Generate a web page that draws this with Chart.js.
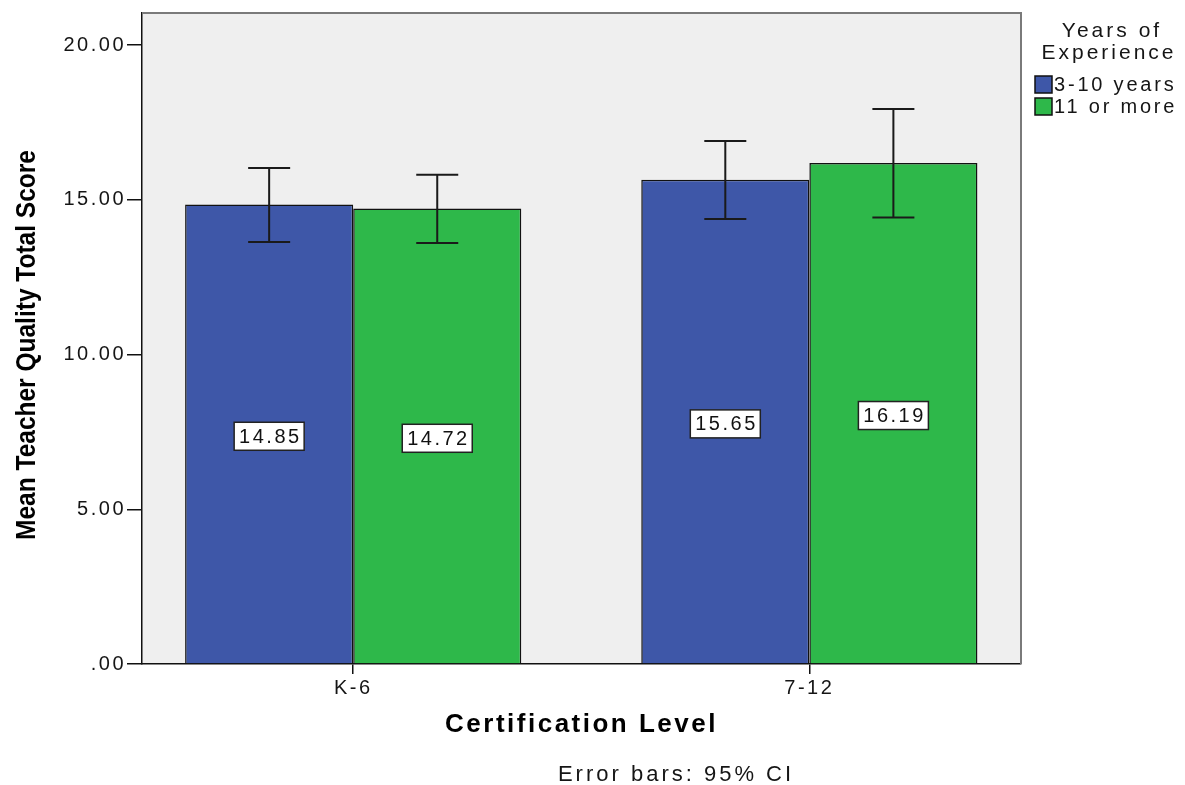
<!DOCTYPE html>
<html>
<head>
<meta charset="utf-8">
<script src="https://cdn.jsdelivr.net/npm/chart.js@4/dist/chart.umd.min.js"></script>
<style>
  html, body { margin: 0; padding: 0; background: #fff; }
  #wrap { width: 1185px; height: 785px; }
</style>
</head>
<body>
<div id="wrap"><canvas id="chart" width="1185" height="785"></canvas></div>
<script>
// Mean teacher quality score by certification level and years of experience
const categories = ['K-6', '7-12'];
const seriesLabels = ['3-10 years', '11 or more'];
const means3to10 = [14.85, 15.65];
const means11plus = [14.72, 16.19];
const ciLow3to10 = [13.64, 14.38];
const ciHigh3to10 = [16.03, 16.90];
const ciLow11plus = [13.61, 14.43];
const ciHigh11plus = [15.81, 17.94];
const yTicks = [0, 5, 10, 15, 20];

const COLORS = {
  blue: '#3e57a8',
  green: '#2eb84a',
  plotBg: '#efefef',
  frame: '#7a7a7a',
  text: '#151515'
};
const FONT = "'Liberation Sans', Arial, sans-serif";

function makeDataset(label, means, lo, hi, color) {
  return {
    label: label,
    data: means.map((v, i) => ({ x: i, y: v })),
    ciLow: lo,
    ciHigh: hi,
    backgroundColor: color,
    borderColor: '#111',
    borderWidth: 1.5,
    categoryPercentage: 0.737,
    barPercentage: 1.0
  };
}

// background, error bars, value boxes, titles and legend
const decorPlugin = {
  id: 'decor',
  beforeDraw(chart) {
    const { ctx, chartArea: a } = chart;
    ctx.save();
    ctx.fillStyle = COLORS.plotBg;
    ctx.fillRect(a.left, a.top, a.right - a.left, a.bottom - a.top);
    ctx.restore();
    ctx.letterSpacing = '2.5px';
  },
  afterDatasetsDraw(chart) {
    const { ctx, chartArea: a } = chart;
    const yScale = chart.scales.y;
    ctx.save();

    // plot frame (top + right)
    ctx.strokeStyle = COLORS.frame;
    ctx.lineWidth = 2;
    ctx.beginPath();
    ctx.moveTo(a.left, a.top);
    ctx.lineTo(a.right, a.top);
    ctx.lineTo(a.right, a.bottom);
    ctx.stroke();

    chart.data.datasets.forEach((ds, di) => {
      const meta = chart.getDatasetMeta(di);
      meta.data.forEach((bar, i) => {
        const x = bar.x;
        const yLo = yScale.getPixelForValue(ds.ciLow[i]);
        const yHi = yScale.getPixelForValue(ds.ciHigh[i]);
        ctx.strokeStyle = '#1a1a1a';
        ctx.lineWidth = 2;
        ctx.beginPath();
        ctx.moveTo(x, yLo); ctx.lineTo(x, yHi);
        ctx.moveTo(x - 21, yLo); ctx.lineTo(x + 21, yLo);
        ctx.moveTo(x - 21, yHi); ctx.lineTo(x + 21, yHi);
        ctx.stroke();

        // value box at half height
        const v = ds.data[i].y;
        const cy = yScale.getPixelForValue(v / 2) + 2;
        ctx.fillStyle = '#fff';
        ctx.fillRect(x - 35, cy - 14, 70, 28);
        ctx.lineWidth = 1.5;
        ctx.strokeStyle = '#222';
        ctx.strokeRect(x - 35, cy - 14, 70, 28);
        ctx.fillStyle = '#111';
        ctx.font = '20px ' + FONT;
        ctx.letterSpacing = '2.5px';
        ctx.textAlign = 'center';
        ctx.textBaseline = 'middle';
        ctx.fillText(v.toFixed(2), x + 1.2, cy + 1);
      });
    });
    ctx.restore();
  },
  afterDraw(chart) {
    const { ctx, chartArea: a } = chart;
    ctx.save();

    // y axis title (narrow bold)
    ctx.save();
    ctx.letterSpacing = '0px';
    ctx.translate(27, 345);
    ctx.rotate(-Math.PI / 2);
    ctx.scale(1, 1.15);
    ctx.font = 'bold 24.5px ' + FONT;
    ctx.fillStyle = '#000';
    ctx.textAlign = 'center';
    ctx.textBaseline = 'middle';
    ctx.fillText('Mean Teacher Quality Total Score', 0, 0);
    ctx.restore();

    // legend
    ctx.fillStyle = COLORS.text;
    ctx.textAlign = 'center';
    ctx.textBaseline = 'middle';
    ctx.font = '21px ' + FONT;
    ctx.letterSpacing = '3px';
    ctx.fillText('Years of', 1112, 31);
    ctx.fillText('Experience', 1109, 53);
    ctx.textAlign = 'left';
    ctx.font = '20px ' + FONT;
    ctx.letterSpacing = '2.8px';
    chart.data.datasets.forEach((ds, di) => {
      const cy = 84 + di * 22;
      ctx.fillStyle = ds.backgroundColor;
      ctx.fillRect(1035, cy - 8, 17, 17);
      ctx.strokeStyle = '#111';
      ctx.lineWidth = 1.5;
      ctx.strokeRect(1035, cy - 8, 17, 17);
      ctx.fillStyle = COLORS.text;
      ctx.fillText(ds.label, 1054, cy + 1);
    });

    // footnote
    ctx.font = '22px ' + FONT;
    ctx.letterSpacing = '3px';
    ctx.textAlign = 'center';
    ctx.textBaseline = 'alphabetic';
    ctx.fillStyle = COLORS.text;
    ctx.fillText('Error bars: 95% CI', 676, 781);
    ctx.restore();
  }
};

new Chart(document.getElementById('chart'), {
  type: 'bar',
  data: {
    datasets: [
      makeDataset(seriesLabels[0], means3to10, ciLow3to10, ciHigh3to10, COLORS.blue),
      makeDataset(seriesLabels[1], means11plus, ciLow11plus, ciHigh11plus, COLORS.green)
    ]
  },
  options: {
    responsive: false,
    animation: false,
    devicePixelRatio: 1,
    layout: { padding: { left: 0, right: 164, top: 10, bottom: 0 } },
    plugins: {
      legend: { display: false },
      tooltip: { enabled: false }
    },
    scales: {
      x: {
        type: 'linear',
        min: -0.463,
        max: 1.464,
        offset: false,
        afterBuildTicks: s => { s.ticks = categories.map((c, i) => ({ value: i })); },
        afterFit: s => { s.height = 121; },
        grid: { offset: false, drawOnChartArea: false, drawTicks: true, tickLength: 10, color: '#111', lineWidth: 1.5 },
        border: { color: '#111', width: 1.5 },
        ticks: {
          color: COLORS.text,
          padding: 2,
          font: { family: FONT, size: 20 },
          callback: v => categories[v] || ''
        },
        title: {
          display: true,
          text: 'Certification Level',
          color: '#000',
          font: { family: FONT, size: 26, weight: 'bold' },
          padding: { top: 0, bottom: 45 }
        }
      },
      y: {
        min: 0,
        max: 21.04,
        afterBuildTicks: s => { s.ticks = yTicks.map(v => ({ value: v })); },
        afterFit: s => { s.width = 142; },
        grid: { drawOnChartArea: false, drawTicks: true, tickLength: 15, color: '#111', lineWidth: 1.5 },
        border: { color: '#111', width: 1.5 },
        ticks: {
          color: COLORS.text,
          padding: 1,
          font: { family: FONT, size: 20 },
          callback: v => (v === 0 ? '.00' : v.toFixed(2))
        }
      }
    }
  },
  plugins: [decorPlugin]
});
</script>
</body>
</html>
